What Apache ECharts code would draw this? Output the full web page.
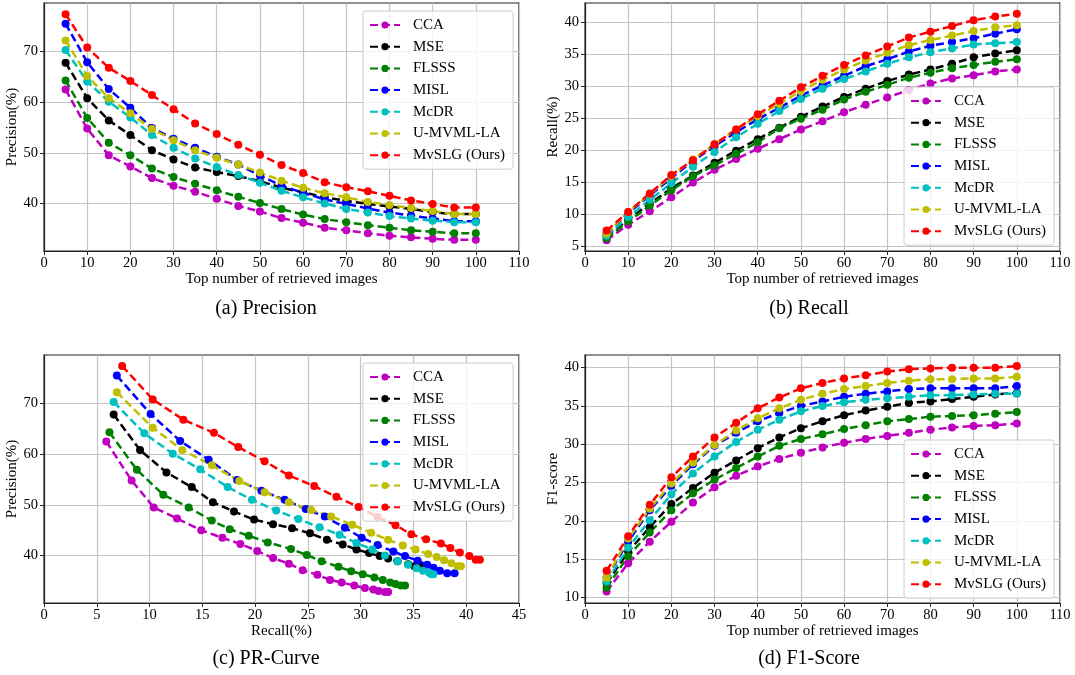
<!DOCTYPE html>
<html>
<head>
<meta charset="utf-8">
<script src="https://cdn.jsdelivr.net/npm/echarts@6/dist/echarts.min.js"></script>
<style>
  html, body { margin: 0; padding: 0; background: #fff; }
  #main { width: 1075px; height: 675px; }
</style>
</head>
<body>
<div id="main"></div>
<script>
// 方法名和颜色
var methods = ['CCA', 'MSE', 'FLSSS', 'MISL', 'McDR', 'U-MVML-LA', 'MvSLG (Ours)'];
var colors = ['#bf00bf', '#000000', '#008000', '#0000ff', '#00bfbf', '#bfbf00', '#ff0000'];

var topN = [5, 10, 15, 20, 25, 30, 35, 40, 45, 50, 55, 60, 65, 70, 75, 80, 85, 90, 95, 100];

// (a) Precision
var precCCA   = [62.5, 54.8, 49.5, 47.3, 45.0, 43.5, 42.3, 40.9, 39.5, 38.4, 37.1, 36.2, 35.2, 34.7, 34.1, 33.6, 33.3, 33.0, 32.8, 32.8];
var precMSE   = [67.8, 60.8, 56.4, 53.5, 50.5, 48.7, 47.1, 46.2, 45.4, 44.4, 43.1, 42.2, 41.2, 40.5, 39.9, 39.4, 38.9, 38.3, 37.9, 37.9];
var precFLSSS = [64.3, 56.9, 52.0, 49.5, 46.9, 45.2, 43.9, 42.6, 41.3, 40.1, 38.9, 37.8, 36.9, 36.3, 35.7, 35.2, 34.7, 34.4, 34.1, 34.1];
var precMISL  = [75.5, 67.9, 62.6, 58.9, 54.9, 52.8, 51.0, 49.2, 47.7, 45.5, 43.5, 42.1, 40.8, 39.9, 39.0, 38.2, 37.6, 37.0, 36.5, 36.5];
var precMcDR  = [70.3, 64.1, 60.1, 57.0, 53.5, 51.0, 48.9, 47.2, 45.6, 44.1, 42.5, 41.2, 40.0, 38.9, 38.2, 37.5, 37.0, 36.6, 36.3, 36.3];
var precUMVML = [72.2, 65.2, 60.8, 57.8, 54.7, 52.5, 50.5, 49.0, 47.7, 46.1, 44.5, 43.1, 42.0, 41.2, 40.3, 39.7, 39.1, 38.5, 37.9, 37.9];
var precMvSLG = [77.4, 70.8, 66.8, 64.2, 61.4, 58.6, 55.8, 53.7, 51.6, 49.6, 47.6, 46.0, 44.2, 43.2, 42.4, 41.5, 40.6, 39.9, 39.2, 39.2];

// (b) Recall
var recCCA   = [5.9, 8.3, 10.4, 12.6, 14.9, 16.9, 18.6, 20.2, 21.7, 23.2, 24.5, 25.9, 27.1, 28.2, 29.4, 30.4, 31.2, 31.7, 32.3, 32.6];
var recMSE   = [6.6, 9.1, 11.6, 14.0, 16.0, 18.0, 19.9, 21.7, 23.5, 25.2, 26.8, 28.3, 29.6, 30.8, 31.8, 32.6, 33.5, 34.5, 35.1, 35.6];
var recFLSSS = [6.2, 8.8, 11.3, 13.7, 15.9, 17.6, 19.4, 21.2, 23.4, 24.9, 26.3, 27.9, 29.1, 30.2, 31.3, 32.1, 32.8, 33.3, 33.8, 34.2];
var recMISL  = [6.9, 10.1, 12.9, 15.6, 18.3, 20.6, 22.8, 24.8, 26.6, 28.5, 30.1, 31.6, 33.1, 34.2, 35.4, 36.3, 36.9, 37.5, 38.2, 38.9];
var recMcDR  = [6.6, 9.5, 12.2, 14.8, 17.4, 19.7, 22.0, 24.1, 26.1, 28.0, 29.6, 31.1, 32.3, 33.5, 34.5, 35.3, 35.9, 36.5, 36.7, 36.9];
var recUMVML = [6.9, 10.3, 13.1, 15.9, 18.5, 20.9, 23.2, 25.3, 27.2, 29.2, 31.0, 32.6, 34.0, 35.2, 36.4, 37.2, 37.9, 38.6, 39.2, 39.5];
var recMvSLG = [7.4, 10.3, 13.2, 16.1, 18.4, 20.9, 23.2, 25.6, 27.7, 29.8, 31.6, 33.3, 34.8, 36.2, 37.6, 38.5, 39.4, 40.3, 40.9, 41.3];

// (d) F1-score
var f1CCA   = [10.8, 14.5, 17.3, 19.9, 22.4, 24.4, 25.9, 27.1, 28.1, 28.9, 29.6, 30.2, 30.7, 31.1, 31.5, 31.9, 32.2, 32.4, 32.5, 32.7];
var f1MSE   = [11.9, 16.0, 19.2, 22.2, 24.3, 26.3, 27.9, 29.5, 30.9, 32.1, 33.0, 33.8, 34.4, 34.9, 35.4, 35.6, 35.9, 36.2, 36.5, 36.7];
var f1FLSSS = [11.3, 15.4, 18.5, 21.4, 23.6, 25.4, 26.9, 28.4, 29.8, 30.7, 31.3, 32.0, 32.5, 33.0, 33.3, 33.6, 33.7, 33.8, 34.0, 34.2];
var f1MISL  = [12.6, 17.3, 21.4, 24.6, 27.4, 29.8, 31.5, 33.0, 34.1, 35.0, 35.6, 36.2, 36.6, 36.9, 37.2, 37.3, 37.3, 37.3, 37.3, 37.6];
var f1McDR  = [12.1, 16.5, 20.1, 23.5, 26.2, 28.4, 30.3, 31.9, 33.2, 34.3, 35.0, 35.5, 35.8, 36.0, 36.2, 36.4, 36.4, 36.5, 36.6, 36.6];
var f1UMVML = [12.6, 17.7, 21.6, 24.9, 27.6, 29.9, 31.8, 33.4, 34.7, 35.8, 36.6, 37.2, 37.6, 38.0, 38.3, 38.5, 38.5, 38.6, 38.6, 38.8];
var f1MvSLG = [13.5, 18.0, 22.1, 25.7, 28.4, 30.9, 32.8, 34.7, 36.1, 37.3, 38.0, 38.6, 39.0, 39.5, 39.8, 39.9, 40.0, 40.0, 40.0, 40.2];

// 刻度
var precTicks = [40, 50, 60, 70];
var recTicks = [5, 10, 15, 20, 25, 30, 35, 40];
var f1Ticks = [10, 15, 20, 25, 30, 35, 40];

var precision = [precCCA, precMSE, precFLSSS, precMISL, precMcDR, precUMVML, precMvSLG];
var recall = [recCCA, recMSE, recFLSSS, recMISL, recMcDR, recUMVML, recMvSLG];
var f1 = [f1CCA, f1MSE, f1FLSSS, f1MISL, f1McDR, f1UMVML, f1MvSLG];

var FONT = '"Liberation Serif", "DejaVu Serif", serif';

function zip(xs, ys) {
    var out = [];
    for (var i = 0; i < xs.length; i++) {
        out.push([xs[i], ys[i]]);
    }
    return out;
}

function makeGrid(left, top) {
    return {
        left: left, top: top, width: 475, height: 248,
        show: true, borderColor: '#222', borderWidth: 1.2,
        backgroundColor: 'transparent', containLabel: false
    };
}

function makeAxis(type, idx, min, max, name, ticks, interval) {
    var ax = {
        type: 'value',
        gridIndex: idx,
        min: min,
        max: max,
        name: name,
        nameLocation: 'middle',
        nameGap: type === 'x' ? 18 : 21,
        nameTextStyle: { fontFamily: FONT, fontSize: 15, color: '#000' },
        axisLine: { show: true, onZero: false, lineStyle: { color: '#222', width: 1.2 } },
        axisTick: { show: true, inside: false, length: 4, lineStyle: { color: '#222', width: 1 } },
        axisLabel: { fontFamily: FONT, fontSize: 14.5, color: '#000', margin: type === 'x' ? 5 : 6 },
        splitLine: { show: true, lineStyle: { color: '#c4c4c4', width: 1.2 } }
    };
    if (ticks) {
        ax.axisTick.customValues = ticks;
        ax.axisLabel.customValues = ticks;
    } else {
        ax.interval = interval;
    }
    return ax;
}

function makeLegend(left, top) {
    return {
        orient: 'vertical',
        left: left,
        top: top,
        data: methods,
        itemWidth: 30,
        itemHeight: 9,
        itemGap: 5.7,
        padding: [6, 8, 6, 6],
        backgroundColor: 'rgba(255,255,255,0.8)',
        borderColor: '#cccccc',
        borderWidth: 1,
        borderRadius: 3,
        textStyle: { fontFamily: FONT, fontSize: 15, color: '#000', lineHeight: 16, padding: [0, 0, 0, 8] },
        selectedMode: false
    };
}

var series = [];
function addSeries(idx, xsList, ysList) {
    for (var i = 0; i < methods.length; i++) {
        series.push({
            name: methods[i],
            type: 'line',
            xAxisIndex: idx,
            yAxisIndex: idx,
            data: zip(xsList ? xsList[i] : topN, ysList[i]),
            symbol: 'circle',
            symbolSize: 8,
            showSymbol: true,
            animation: false,
            color: colors[i],
            lineStyle: { color: colors[i], width: 2.5, type: [8, 4] },
            itemStyle: { color: colors[i] }
        });
    }
}

addSeries(0, null, precision);
addSeries(1, null, recall);
addSeries(2, recall, precision);
addSeries(3, null, f1);

var chart = echarts.init(document.getElementById('main'));
var option = {
    backgroundColor: '#fff',
    animation: false,
    grid: [makeGrid(44, 3), makeGrid(585, 3), makeGrid(44, 355), makeGrid(585, 355)],
    xAxis: [
        makeAxis('x', 0, 0, 110, 'Top number of retrieved images', null, 10),
        makeAxis('x', 1, 0, 110, 'Top number of retrieved images', null, 10),
        makeAxis('x', 2, 0, 45, 'Recall(%)', null, 5),
        makeAxis('x', 3, 0, 110, 'Top number of retrieved images', null, 10)
    ],
    yAxis: [
        makeAxis('y', 0, 30.6, 79.6, 'Precision(%)', precTicks),
        makeAxis('y', 1, 4.2, 43.0, 'Recall(%)', recTicks),
        makeAxis('y', 2, 30.65, 79.55, 'Precision(%)', precTicks),
        makeAxis('y', 3, 9.3, 41.65, 'F1-score', f1Ticks)
    ],
    legend: [makeLegend(363, 11), makeLegend(904, 87), makeLegend(363, 363), makeLegend(904, 440)],
    graphic: [
        { type: 'text', x: 266, y: 309, style: { text: '(a) Precision', font: '20px ' + FONT, fill: '#000', textAlign: 'center', textVerticalAlign: 'middle' } },
        { type: 'text', x: 809, y: 309, style: { text: '(b) Recall', font: '20px ' + FONT, fill: '#000', textAlign: 'center', textVerticalAlign: 'middle' } },
        { type: 'text', x: 266, y: 659, style: { text: '(c) PR-Curve', font: '20px ' + FONT, fill: '#000', textAlign: 'center', textVerticalAlign: 'middle' } },
        { type: 'text', x: 809, y: 659, style: { text: '(d) F1-Score', font: '20px ' + FONT, fill: '#000', textAlign: 'center', textVerticalAlign: 'middle' } }
    ],
    series: series
};
chart.setOption(option);
</script>
</body>
</html>
